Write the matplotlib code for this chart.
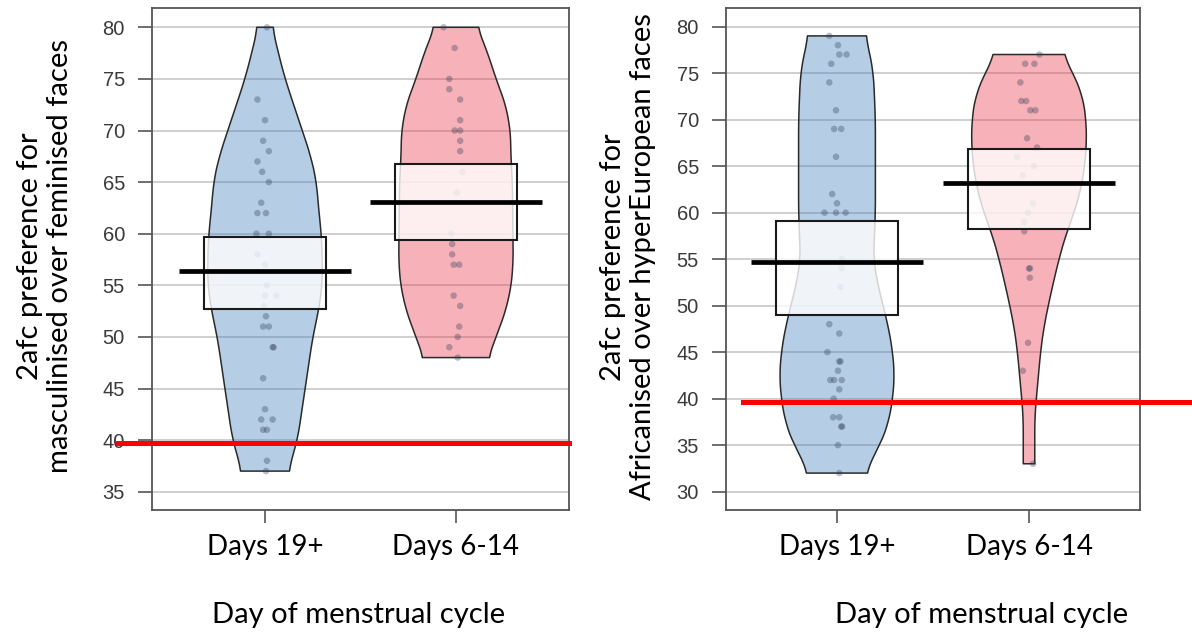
import matplotlib
matplotlib.use("Agg")
import matplotlib.pyplot as plt
import matplotlib.transforms as mtrans
import numpy as np

# ---- data ----
groups = ["Days 19+", "Days 6-14"]

# left panel: masculinised vs feminised
masc_late = [80, 73, 71, 69, 68, 67, 66, 65, 63, 62, 62, 60, 60, 58, 57, 55, 54, 54,
             53, 52, 51, 51, 49, 49, 46, 43, 42, 42, 41, 41, 38, 37]
masc_fert = [80, 78, 75, 74, 73, 71, 70, 70, 69, 68, 66, 64, 60, 59, 58, 57, 57, 54,
             53, 51, 50, 49, 48]
masc_mean = [56.4, 63.1]
masc_lo = [52.7, 59.35]
masc_hi = [59.65, 66.75]
masc_chance = 39.7

# right panel: africanised vs hyperEuropean
afr_late = [79, 78, 77, 77, 76, 74, 71, 69, 69, 66, 62, 61, 60, 60, 60, 55, 54, 52,
            48, 47, 45, 44, 44, 43, 42, 42, 42, 41, 40, 38, 38, 37, 37, 35, 32]
afr_fert = [77, 76, 76, 74, 72, 72, 71, 71, 68, 67, 66, 65, 64, 61, 60, 59, 58, 54,
            54, 53, 46, 43, 33]
afr_mean = [54.7, 63.15]
afr_lo = [49.0, 58.25]
afr_hi = [59.15, 66.85]
afr_chance = 39.6

# bean outlines (level, half width in category units)
bean_ml_y = [37, 38.5, 40, 42.5, 45, 47.5, 50, 52.5, 55, 57.5, 60, 62.5, 65, 67.5, 70, 72.5, 75, 77.5, 80]
bean_ml_w = [0.122, 0.145, 0.17, 0.19, 0.21, 0.23, 0.25, 0.28, 0.30, 0.30, 0.295, 0.28, 0.27, 0.24, 0.195, 0.15, 0.105, 0.07, 0.038]
bean_mf_y = [48, 50, 52.5, 55, 57.5, 60, 62.5, 65, 67.5, 70, 72.5, 75, 77.5, 80]
bean_mf_w = [0.17, 0.21, 0.26, 0.29, 0.30, 0.298, 0.297, 0.295, 0.288, 0.285, 0.26, 0.21, 0.166, 0.113]
bean_al_y = [32, 33.5, 35, 37.5, 40, 42.5, 45, 47.5, 50, 52.5, 55, 57.5, 60, 65, 70, 75, 77.5, 79]
bean_al_w = [0.15, 0.18, 0.225, 0.27, 0.29, 0.30, 0.29, 0.27, 0.24, 0.21, 0.19, 0.195, 0.2, 0.2, 0.2, 0.19, 0.167, 0.148]
bean_af_y = [33, 37.5, 38, 40, 42.5, 45, 47.5, 50, 52.5, 55, 57.5, 60, 62.5, 65, 67.5, 70, 72.5, 75, 77]
bean_af_w = [0.03, 0.03, 0.03, 0.038, 0.049, 0.06, 0.076, 0.10, 0.127, 0.156, 0.19, 0.235, 0.27, 0.29, 0.30, 0.297, 0.28, 0.23, 0.176]

# horizontal jitter of the dots (category units)
jit_ml = [0.01, -0.04, 0, -0.01, 0.02, -0.04, -0.015, 0.02, -0.02, -0.04, 0.005, -0.045, 0.02,
          -0.04, 0, 0.01, 0.06, 0, -0.005, 0.005, -0.01, 0.02, 0.045, 0.04, -0.01, 0, -0.02, 0.04,
          -0.01, 0.01, 0.01, 0.005]
jit_mf = [-0.065, -0.007, -0.035, -0.035, 0.022, 0.022, -0.007, 0.022, 0.022, 0.022, 0.035, 0.005,
          -0.025, -0.02, -0.02, -0.012, 0.017, -0.012, 0.022, 0.017, 0.009, -0.035, 0.009]
jit_al = [-0.04, 0.005, 0.012, 0.05, -0.03, -0.04, -0.005, -0.015, 0.022, -0.005, -0.025, 0,
          -0.065, -0.005, 0.045, 0.025, 0.025, 0.017, -0.04, 0.012, -0.05, 0.012, 0.018, 0.005,
          -0.035, -0.015, 0.025, 0.012, -0.017, -0.02, 0.012, 0.022, 0.027, 0.005, 0.012]
jit_af = [0.054, -0.02, 0.028, -0.045, -0.04, -0.015, 0.007, 0.033, -0.01, 0.042, -0.062, 0.025,
          -0.032, 0.02, -0.005, -0.025, -0.025, 0, 0.005, 0.004, -0.005, -0.032, 0.021]

BLUE = (70 / 255, 130 / 255, 190 / 255)
PINK = (235 / 255, 60 / 255, 80 / 255)
W, H = 1192, 635

fig = plt.figure(figsize=(W / 100, H / 100), dpi=100)


def fx(px):
    return px / W


def fy(py):
    return 1 - py / H


def smooth_bean(by, bw):
    # resample the read outline on a fine grid and soften the corners a bit
    yy = np.linspace(by[0], by[-1], 400)
    ww = np.interp(yy, by, bw)
    k = 15
    padded = np.pad(ww, k, mode="edge")
    ww = np.convolve(padded, np.ones(2 * k + 1) / (2 * k + 1), mode="same")[k:-k]
    return yy, ww


def pirate(ax, pos, vals, jit, by, bw, color, mean, lo, hi):
    yy, ww = smooth_bean(by, bw)
    ax.fill_betweenx(yy, pos - ww, pos + ww, facecolor=color, alpha=0.4,
                     edgecolor="none", zorder=2)
    ax.fill_betweenx(yy, pos - ww, pos + ww, facecolor="none",
                     edgecolor="#2a2a2a", linewidth=1.1, zorder=3)
    ax.scatter(pos + np.array(jit), vals, s=22, color="#2b3a55", alpha=0.33,
               edgecolors="none", zorder=4)
    ax.bar(pos, hi - lo, bottom=lo, width=0.64, facecolor=(1, 1, 1, 0.8),
           edgecolor="#1a1a1a", linewidth=1.5, zorder=5)
    ax.hlines(mean, pos - 0.45, pos + 0.45, color="black", linewidth=3.4, zorder=6)


def panel(rect, ylim, xlim, yticks, beans, dots, jits, means, los, his, chance, red_x,
          lab_dx):
    ax = fig.add_axes(rect)
    ax.set_xlim(*xlim)
    ax.set_ylim(*ylim)
    for gy in yticks:
        ax.axhline(gy, color="#cfcfcf", linewidth=1.4, zorder=0)
    cols = [BLUE, PINK]
    for i in range(2):
        pirate(ax, i + 1, dots[i], jits[i], beans[i][0], beans[i][1], cols[i],
               means[i], los[i], his[i])
    ax.plot(red_x, [chance, chance], color="#ff0000", linewidth=3.6,
            transform=mtrans.blended_transform_factory(ax.transAxes, ax.transData),
            clip_on=False, zorder=8)
    ax.set_yticks(yticks)
    ax.set_yticklabels([str(t) for t in yticks], fontsize=14.5, color="#3a3a3a",
                       family="Liberation Sans")
    ax.set_xticks([1, 2])
    ax.set_xticklabels(groups, fontsize=20, family="Lato", color="black")
    for lab, dx in zip(ax.get_xticklabels(), lab_dx):
        lab.set_transform(lab.get_transform() +
                          mtrans.ScaledTranslation(dx / 100, 0, fig.dpi_scale_trans))
    ax.tick_params(axis="y", length=10, width=1.2, color="#555555", pad=9.5)
    ax.tick_params(axis="x", length=9, width=1.2, color="#555555", pad=8)
    for s in ax.spines.values():
        s.set_color("#555555")
        s.set_linewidth(1.3)
    return ax


panel([fx(152), fy(510), fx(569) - fx(152), fy(8) - fy(510)], (33.23, 81.87), (0.408, 2.592),
      [35, 40, 45, 50, 55, 60, 65, 70, 75, 80],
      [(bean_ml_y, bean_ml_w), (bean_mf_y, bean_mf_w)], [masc_late, masc_fert],
      [jit_ml, jit_mf], masc_mean, masc_lo, masc_hi, masc_chance, [-0.082, 1.0], [-8, 0])

panel([fx(726), fy(510), fx(1140) - fx(726), fy(8) - fy(510)], (28.03, 82.0), (0.422, 2.578),
      [30, 35, 40, 45, 50, 55, 60, 65, 70, 75, 80],
      [(bean_al_y, bean_al_w), (bean_af_y, bean_af_w)], [afr_late, afr_fert],
      [jit_al, jit_af], afr_mean, afr_lo, afr_hi, afr_chance, [0.041, 1.13], [16, 20])

fig.text(fx(45), fy(256), "2afc preference for\nmasculinised over feminised faces",
         rotation=90, ha="center", va="center", multialignment="center",
         fontsize=21, family="Lato", linespacing=1.15)
fig.text(fx(628), fy(257), "2afc preference for\nAfricanised over hyperEuropean faces",
         rotation=90, ha="center", va="center", multialignment="center",
         fontsize=21, family="Lato", linespacing=1.15)
fig.text(fx(359), fy(615), "Day of menstrual cycle", ha="center", va="center",
         fontsize=21, family="Lato")
fig.text(fx(982), fy(615), "Day of menstrual cycle", ha="center", va="center",
         fontsize=21, family="Lato")

fig.savefig("out.png", dpi=100)
